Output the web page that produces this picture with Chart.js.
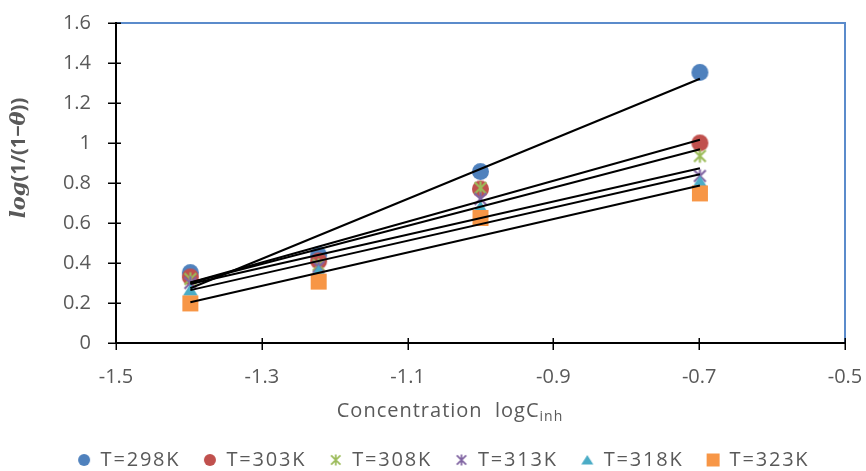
<!DOCTYPE html>
<html><head><meta charset="utf-8">
<script src="https://cdn.jsdelivr.net/npm/chart.js@4"></script>
<style>html,body{margin:0;padding:0;background:#fff}#wrap{width:866px;height:471px;position:relative}</style>
</head><body><div id="wrap"><canvas id="c"></canvas></div>
<script>
// ---- data ----
const seriesNames = ['T=298K','T=303K','T=308K','T=313K','T=318K','T=323K'];
const logC = [-1.398, -1.222, -1.0, -0.699];
const y298 = [0.352, 0.44, 0.857, 1.353];
const y303 = [0.33, 0.41, 0.77, 1.0];
const y308 = [0.32, 0.39, 0.775, 0.935];
const y313 = [0.30, 0.38, 0.72, 0.835];
const y318 = [0.265, 0.36, 0.68, 0.807];
const y323 = [0.198, 0.307, 0.625, 0.748];
const xTicks = [-1.5, -1.3, -1.1, -0.9, -0.7, -0.5];
const yTicks = [0, 0.2, 0.4, 0.6, 0.8, 1, 1.2, 1.4, 1.6];
const xTitleMain = 'Concentration  logC';
const xTitleSub = 'inh';
const seriesColors = ['#4F81BD','#C0504D','#9BBB59','#8064A2','#4BACC6','#F79646'];
const seriesMarkers = ['circle','circle','star','star','triangle','rect'];
const allY = [y298, y303, y308, y313, y318, y323];

const FONT = "'Open Sans', 'Noto Sans', sans-serif";
const GREY = '#595959';

function makeMarker(type, color, size) {
  const c = document.createElement('canvas');
  const pad = 2;
  c.width = c.height = size + pad * 2;
  const g = c.getContext('2d');
  const m = c.width / 2, r = size / 2;
  g.fillStyle = color; g.strokeStyle = color;
  if (type === 'circle') { g.beginPath(); g.arc(m, m, r, 0, Math.PI * 2); g.fill(); }
  else if (type === 'rect') { g.fillRect(m - r, m - r, size, size); }
  else if (type === 'triangle') {
    g.beginPath(); g.moveTo(m, m - r * 0.85); g.lineTo(m + r, m + r * 0.75); g.lineTo(m - r, m + r * 0.75); g.closePath(); g.fill();
  } else if (type === 'star') {
    g.lineWidth = Math.max(1.6, size / 7); g.lineCap = 'butt';
    const d = r * 0.78;
    g.beginPath();
    g.moveTo(m - d, m - d); g.lineTo(m + d, m + d);
    g.moveTo(m + d, m - d); g.lineTo(m - d, m + d);
    g.moveTo(m, m - r * 0.9); g.lineTo(m, m + r * 0.9);
    g.stroke();
  }
  return c;
}
const chartSizes = {circle: 17, rect: 16, triangle: 15, star: 15};
const legendSizes = {circle: 12, rect: 13, triangle: 12, star: 12};
const chartMarkers = seriesMarkers.map((t, i) => makeMarker(t, seriesColors[i], chartSizes[t]));
const legendMarkers = seriesMarkers.map((t, i) => makeMarker(t, seriesColors[i], legendSizes[t]));

// least-squares trendline (as Excel's linear trendline) from the data
function fit(xs, ys) {
  const n = xs.length;
  const mx = xs.reduce((a, b) => a + b, 0) / n, my = ys.reduce((a, b) => a + b, 0) / n;
  let sxy = 0, sxx = 0;
  for (let i = 0; i < n; i++) { sxy += (xs[i] - mx) * (ys[i] - my); sxx += (xs[i] - mx) ** 2; }
  const b = sxy / sxx, a = my - b * mx;
  const x0 = Math.min(...xs), x1 = Math.max(...xs);
  return [{x: x0, y: a + b * x0}, {x: x1, y: a + b * x1}];
}

const datasets = [];
allY.forEach((ys, i) => {
  datasets.push({
    type: 'scatter', label: seriesNames[i],
    data: logC.map((x, k) => ({x, y: ys[k]})),
    pointStyle: chartMarkers[i], backgroundColor: seriesColors[i], borderColor: seriesColors[i],
    order: 6 - i
  });
});
allY.forEach((ys, i) => {
  datasets.push({
    type: 'line', label: 'trend ' + seriesNames[i],
    data: fit(logC, ys), borderColor: '#000', borderWidth: 2, pointRadius: 0,
    showLine: true, fill: false, order: 0
  });
});

const fmt = v => String(Math.round(v * 10) / 10);

const decor = {
  id: 'decor',
  beforeDatasetsDraw(chart) {
    const {ctx, chartArea: a, scales: {x, y}} = chart;
    ctx.save();
    ctx.strokeStyle = '#5B8BCB'; ctx.lineWidth = 2;
    ctx.beginPath(); ctx.moveTo(a.left, a.top); ctx.lineTo(a.right, a.top); ctx.lineTo(a.right, a.bottom); ctx.stroke();
    ctx.strokeStyle = '#000'; ctx.lineWidth = 2;
    ctx.beginPath(); ctx.moveTo(a.left, a.top - 1); ctx.lineTo(a.left, a.bottom); ctx.lineTo(a.right, a.bottom); ctx.stroke();
    ctx.lineWidth = 1.5;
    ctx.beginPath();
    yTicks.forEach(v => { const p = Math.round(y.getPixelForValue(v)) + 0.25; ctx.moveTo(a.left - 8, p); ctx.lineTo(a.left + 5, p); });
    xTicks.forEach(v => { const p = Math.round(x.getPixelForValue(v)) + 0.25; ctx.moveTo(p, a.bottom - 5); ctx.lineTo(p, a.bottom + 7); });
    ctx.stroke();
    ctx.restore();
  },
  afterDraw(chart) {
    const {ctx} = chart;
    ctx.save();
    ctx.fillStyle = GREY;
    // x title with subscript
    ctx.textBaseline = 'alphabetic'; ctx.textAlign = 'left';
    ctx.letterSpacing = '1px';
    const mainFont = "20px " + FONT, subFont = "14px " + FONT;
    ctx.font = mainFont; const w1 = ctx.measureText(xTitleMain).width;
    ctx.font = subFont; const w2 = ctx.measureText(xTitleSub).width;
    const x0 = 450 - (w1 + w2) / 2;
    ctx.font = mainFont; ctx.fillText(xTitleMain, x0, 417);
    ctx.font = subFont; ctx.fillText(xTitleSub, x0 + w1, 421);
    ctx.letterSpacing = '0px';
    // y title, rotated, mixed styles
    const parts = [
      ['log', "italic bold 21px 'DejaVu Serif', serif"],
      ['(1/(1\u2212', "bold 20px " + FONT],
      ['\u03B8', "italic bold 21px 'DejaVu Serif', serif"],
      ['))', "bold 20px " + FONT]
    ];
    let total = 0;
    parts.forEach(p => { ctx.font = p[1]; p.push(ctx.measureText(p[0]).width); total += p[2]; });
    ctx.translate(25, 158); ctx.rotate(-Math.PI / 2);
    let cx = -total / 2;
    parts.forEach(p => { ctx.font = p[1]; ctx.fillText(p[0], cx, 0); cx += p[2]; });
    ctx.restore();
  }
};

const chart = new Chart(document.getElementById('c'), {
  type: 'scatter',
  data: {datasets},
  options: {
    responsive: true, maintainAspectRatio: false, animation: false, events: [],
    layout: {padding: {left: 42, right: 21, top: 23, bottom: -9}},
    elements: {point: {radius: 8, hoverRadius: 8}},
    plugins: {
      tooltip: {enabled: false},
      legend: {
        position: 'bottom', align: 'center',
        labels: {
          usePointStyle: true, boxWidth: 13, boxHeight: 13, padding: 23,
          color: GREY, font: {family: FONT, size: 20},
          filter: it => it.datasetIndex < 6,
          sort: (a, b) => a.datasetIndex - b.datasetIndex,
          generateLabels: ch => {
            const items = Chart.defaults.plugins.legend.labels.generateLabels(ch);
            items.forEach(it => { if (it.datasetIndex < 6) it.pointStyle = legendMarkers[it.datasetIndex]; });
            return items;
          }
        }
      }
    },
    scales: {
      x: {
        type: 'linear', min: -1.5, max: -0.5,
        afterBuildTicks: s => { s.ticks = xTicks.map(v => ({value: v})); },
        afterFit: s => { s.height = 84; s.paddingLeft = 0; s.paddingRight = 0; },
        grid: {display: false, drawTicks: false}, border: {display: false},
        ticks: {padding: 22, color: GREY, font: {family: FONT, size: 20}, autoSkip: false, maxRotation: 0, callback: v => fmt(v)}
      },
      y: {
        type: 'linear', min: 0, max: 1.6,
        afterBuildTicks: s => { s.ticks = yTicks.map(v => ({value: v})); },
        afterFit: s => { s.width = 74; s.paddingTop = 0; s.paddingBottom = 0; },
        grid: {display: false, drawTicks: false}, border: {display: false},
        ticks: {padding: 25, color: GREY, font: {family: FONT, size: 20}, autoSkip: false, callback: v => fmt(v)}
      }
    }
  },
  plugins: [decor]
});

// legend text in the reference is set wider: add letter spacing for the legend only
(function () {
  const lg = chart.legend;
  if (!lg) return;
  const wrap = fn => function () {
    const c = this.ctx; const prev = c.letterSpacing;
    c.letterSpacing = '1.8px';
    try { return fn.apply(this, arguments); } finally { c.letterSpacing = prev; }
  };
  lg.fit = wrap(lg.fit);
  lg.draw = wrap(lg.draw);
  chart.update();
})();
</script>
</body></html>
